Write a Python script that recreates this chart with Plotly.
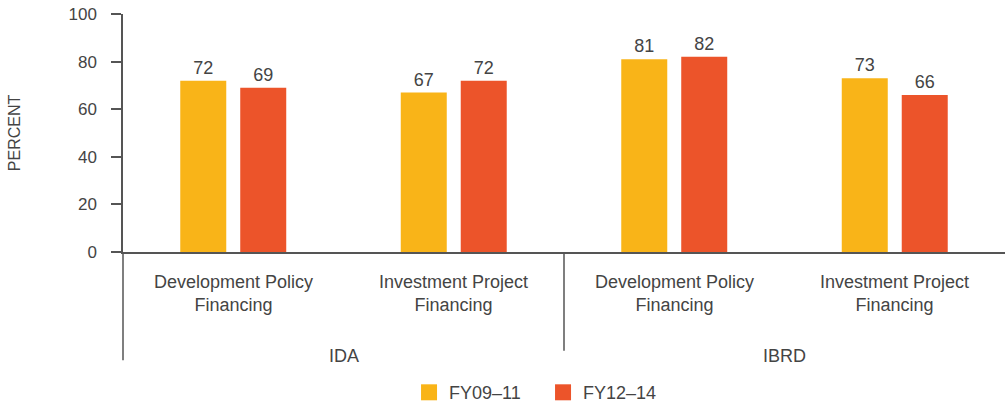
import plotly.graph_objects as go

groups = ["IDA", "IDA", "IBRD", "IBRD"]
instruments = ["Development Policy<br>Financing", "Investment Project<br>Financing",
               "Development Policy<br>Financing", "Investment Project<br>Financing"]
fy09_11 = [72, 67, 81, 73]
fy12_14 = [69, 72, 82, 66]
series_names = ["FY09\u201311", "FY12\u201314"]
colors = ["#F9B418", "#EC542A"]
y_ticks = [0, 20, 40, 60, 80, 100]

font_family = "Liberation Sans, Arial, sans-serif"
text_color = "#444444"
line_color = "#555555"

keys = [g + " | " + i for g, i in zip(groups, instruments)]

fig = go.Figure()
for name, vals, col in zip(series_names, [fy09_11, fy12_14], colors):
    fig.add_trace(go.Bar(
        x=keys, y=vals, name=name, showlegend=False,
        marker=dict(color=col, line=dict(width=0)),
        text=[str(v) for v in vals], textposition="outside",
        textfont=dict(size=18, color=text_color, family=font_family),
        cliponaxis=False,
    ))
    # legend entry with a larger square swatch
    fig.add_trace(go.Scatter(
        x=[None], y=[None], mode="markers", name=name, showlegend=True,
        marker=dict(symbol="square", size=21, color=col),
    ))

# inner category labels
for k, inst in zip(keys, instruments):
    fig.add_annotation(x=k, xref="x", y=0, yref="paper", yanchor="top", yshift=-18,
                       text=inst, showarrow=False,
                       font=dict(size=18, color=text_color, family=font_family))

# outer group labels (centred on their pair of categories)
seen = []
for g in groups:
    if g in seen:
        continue
    seen.append(g)
    idx = [i for i, gg in enumerate(groups) if gg == g]
    fig.add_annotation(x=sum(idx) / len(idx), xref="x", y=0, yref="paper",
                       yanchor="top", yshift=-92, text=g, showarrow=False,
                       font=dict(size=18, color=text_color, family=font_family))

# dividers
fig.add_shape(type="line", xref="paper", x0=0, x1=0, yref="paper", y0=0, y1=-0.455,
              line=dict(color=line_color, width=1.5))
fig.add_shape(type="line", xref="x", x0=1.5, x1=1.5, yref="paper", y0=0, y1=-0.415,
              line=dict(color=line_color, width=1.5))

fig.update_layout(
    width=1005, height=406,
    margin=dict(l=123, r=0, t=14, b=154),
    paper_bgcolor="white", plot_bgcolor="white",
    barmode="group", bargap=0.456, bargroupgap=0.233,
    font=dict(family=font_family, color=text_color, size=18),
    showlegend=True,
    legend=dict(orientation="h", xref="container", x=0.407, xanchor="left",
                yref="container", y=0.033, yanchor="middle",
                font=dict(size=18, color=text_color), entrywidth=89,
                itemsizing="trace", borderwidth=0,
                traceorder="normal", bgcolor="rgba(0,0,0,0)"),
    xaxis=dict(
        type="category", showline=True, linecolor=line_color, linewidth=1.5,
        ticks="", showgrid=False, showticklabels=False, automargin=False,
        range=[-0.5, 3.5],
    ),
    yaxis=dict(
        range=[0, 100], tickvals=y_ticks, showline=True, linecolor=line_color,
        linewidth=1.5, ticks="outside", ticklen=10, tickcolor=line_color,
        tickwidth=1.5, showgrid=False, zeroline=False, automargin=False,
        ticklabelstandoff=11, ticklabeloverflow="allow",
        tickfont=dict(size=17, color=text_color),
        title=dict(text="PERCENT", font=dict(size=16, color=text_color), standoff=44),
    ),
)

fig.write_html("out.html", config={"displayModeBar": False},
               post_script="document.body.style.margin='0';")
